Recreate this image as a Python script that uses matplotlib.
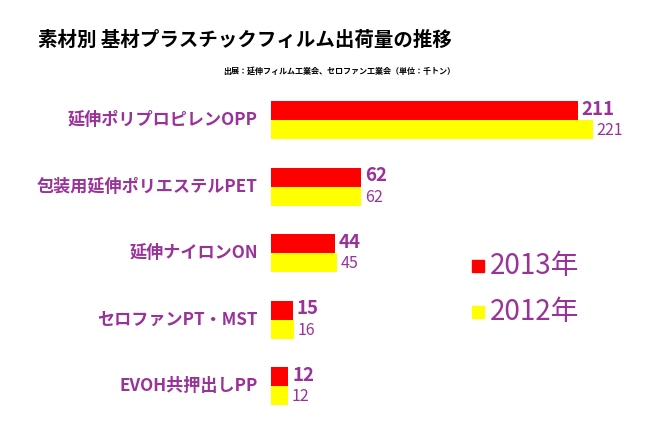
import matplotlib
matplotlib.use("Agg")
import matplotlib.pyplot as plt
import numpy as np
from matplotlib.patches import Rectangle

plt.rcParams['font.family'] = ['Noto Sans CJK JP', 'DejaVu Sans']

categories = ["延伸ポリプロピレンOPP", "包装用延伸ポリエステルPET", "延伸ナイロンON",
              "セロファンPT・MST", "EVOH共押出しPP"]
v2013 = [211, 62, 44, 15, 12]
v2012 = [221, 62, 45, 16, 12]
series_names = ["2013年", "2012年"]
title = "素材別 基材プラスチックフィルム出荷量の推移"
source = "出展：延伸フィルム工業会、セロファン工業会（単位：千トン）"

purple = "#993399"
red = "#FF0000"
yellow = "#FFFF00"

W, H = 659, 429
fig = plt.figure(figsize=(W / 100, H / 100), dpi=100)
ax = fig.add_axes([271 / W, 0, 1 - 271 / W, 1])
px_per_unit = 1.456
ax.set_xlim(0, (W - 271) / px_per_unit)
step = 66.5
ax.set_ylim((H - 120) / step, -120 / step)
ax.axis("off")

y = np.arange(len(categories))
bh = 19 / step
ax.barh(y - bh / 2, v2013, height=bh, color=red, label=series_names[0])
ax.barh(y + bh / 2, v2012, height=bh, color=yellow, label=series_names[1])

for i in range(len(categories)):
    ax.text(v2013[i] + 2.5, y[i] - bh / 2 - 0.02, str(v2013[i]), ha="left", va="center",
            fontsize=13.5, fontweight="bold", color=purple)
    ax.text(v2012[i] + 2.5, y[i] + bh / 2 + 0.02, str(v2012[i]), ha="left", va="center",
            fontsize=11.5, color=purple)
    ax.text(-9, y[i], categories[i], ha="right", va="center",
            fontsize=12.3, fontweight="bold", color=purple)

fig.text(245 / W, 1 - 40 / H, title, ha="center", va="center", fontsize=14,
         fontweight="bold", color="black")
fig.text(455 / W, 1 - 71 / H, source, ha="right", va="center", fontsize=5.8,
         fontweight="bold", color="black")

# legend
leg_y = [266, 312]
leg_cols = [red, yellow]
for yy, c, name in zip(leg_y, leg_cols, series_names):
    fig.patches.append(Rectangle((472 / W, 1 - (yy + 6) / H), 12 / W, 12 / H,
                                 transform=fig.transFigure, color=c))
    fig.text(490 / W, 1 - yy / H, name, ha="left", va="center", fontsize=20, color=purple)

fig.savefig("out.png", dpi=100, facecolor="white")
